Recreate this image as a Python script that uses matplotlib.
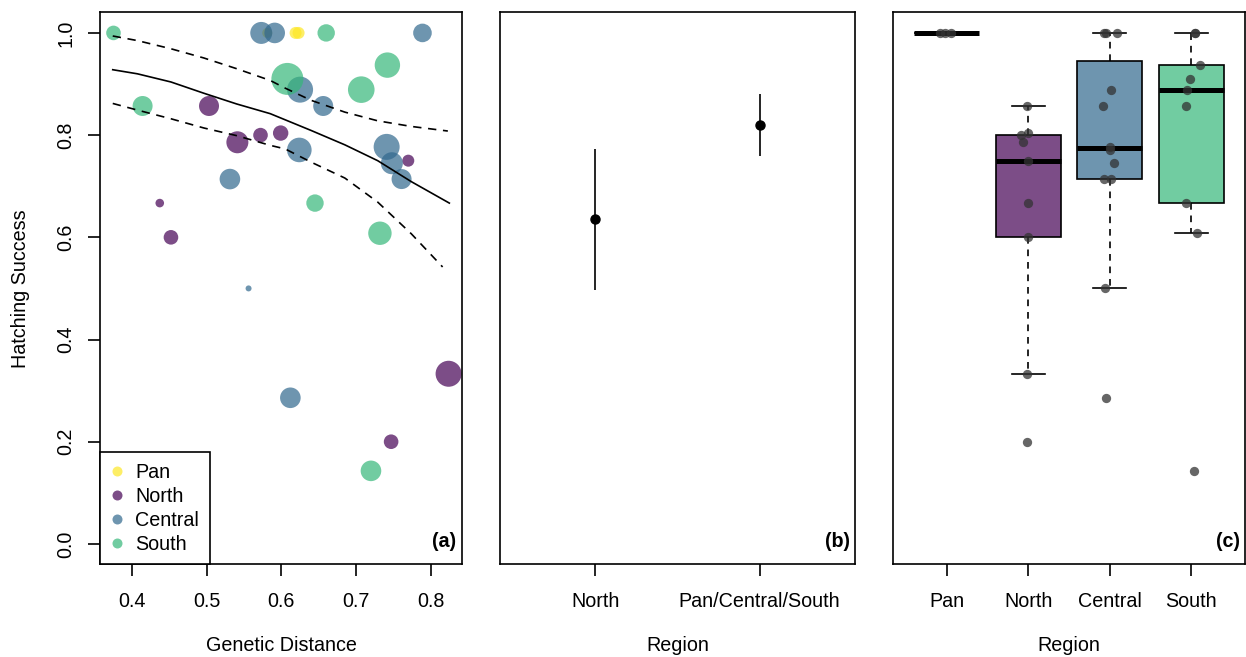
import matplotlib.pyplot as plt
import numpy as np
from matplotlib.lines import Line2D

plt.rcParams['font.family'] = ['Liberation Sans', 'DejaVu Sans']
plt.rcParams['font.size'] = 14.2

# --- data ---
regions = ['Pan', 'North', 'Central', 'South']
region_colors = ['#FDE725', '#440154', '#31688E', '#35B779']

pan_dist = [0.581, 0.619, 0.623]
pan_hs = [1.0, 1.0, 1.0]
pan_size = [5, 6, 6]
pan_jit = [-0.085, -0.024, 0.05]

north_dist = [0.503, 0.599, 0.572, 0.541, 0.770, 0.437, 0.452, 0.824, 0.747]
north_hs = [0.857, 0.804, 0.800, 0.786, 0.750, 0.667, 0.600, 0.333, 0.200]
north_size = [10, 7.7, 7.3, 11, 6, 4.3, 7.3, 13, 7.3]
north_jit = [-0.02, 0.0, -0.09, -0.06, 0.0, 0.0, 0.0, -0.01, -0.01]

central_dist = [0.573, 0.591, 0.789, 0.625, 0.656, 0.624, 0.741, 0.748, 0.761, 0.531, 0.556, 0.612]
central_hs = [1.0, 1.0, 1.0, 0.889, 0.857, 0.771, 0.777, 0.745, 0.714, 0.714, 0.500, 0.286]
central_size = [11, 10.3, 9.3, 13, 10, 12.3, 13, 11, 10, 10.3, 3, 10.3]
central_jit = [-0.07, 0.09, -0.05, 0.01, -0.08, 0.0, 0.0, 0.05, -0.07, 0.01, -0.06, -0.05]

south_dist = [0.375, 0.660, 0.742, 0.608, 0.707, 0.414, 0.645, 0.732, 0.720]
south_hs = [1.0, 1.0, 0.937, 0.910, 0.889, 0.857, 0.667, 0.608, 0.143]
south_size = [7.3, 8.7, 12.7, 16, 13.3, 10, 8.7, 11.7, 10.3]
south_jit = [0.05, 0.05, 0.11, -0.01, -0.05, -0.07, -0.07, 0.07, 0.03]

# fitted curve and confidence band (panel a)
fit_x = [0.374, 0.407, 0.452, 0.496, 0.540, 0.585, 0.640, 0.685, 0.729, 0.774, 0.825]
fit_y = [0.928, 0.920, 0.904, 0.882, 0.861, 0.842, 0.809, 0.781, 0.750, 0.709, 0.667]
upr_x = [0.374, 0.407, 0.452, 0.496, 0.540, 0.585, 0.605, 0.640, 0.685, 0.729, 0.774, 0.823]
upr_y = [0.994, 0.985, 0.969, 0.951, 0.930, 0.907, 0.892, 0.868, 0.845, 0.828, 0.817, 0.808]
lwr_x = [0.374, 0.407, 0.452, 0.496, 0.540, 0.585, 0.605, 0.640, 0.685, 0.729, 0.774, 0.816]
lwr_y = [0.862, 0.849, 0.832, 0.814, 0.799, 0.780, 0.773, 0.747, 0.716, 0.669, 0.607, 0.542]

# panel b: model estimates
groups_b = ['North', 'Pan/Central/South']
est_b = [0.635, 0.820]
lo_b = [0.497, 0.759]
hi_b = [0.772, 0.881]

dists = [pan_dist, north_dist, central_dist, south_dist]
hss = [pan_hs, north_hs, central_hs, south_hs]
sizes = [pan_size, north_size, central_size, south_size]
jits = [pan_jit, north_jit, central_jit, south_jit]

ALPHA = 0.7
LW = 1.2
FS = 14.2


def tukey_stats(vals, label):
    # R style boxplot stats (hinges + 1.5 IQR whiskers)
    v = np.sort(np.asarray(vals))
    n = len(v)
    half = (n + 1) // 2
    lower = v[:half]
    upper = v[n - half:]
    q1, med, q3 = np.median(lower), np.median(v), np.median(upper)
    iqr = q3 - q1
    lo = v[v >= q1 - 1.5 * iqr].min()
    hi = v[v <= q3 + 1.5 * iqr].max()
    fl = v[(v < lo) | (v > hi)]
    return dict(med=med, q1=q1, q3=q3, whislo=lo, whishi=hi, fliers=fl, label=label)


def style_axes(ax):
    for s in ax.spines.values():
        s.set_linewidth(LW)
    ax.tick_params(direction='out', length=8.6, width=LW, labelsize=FS)
    ax.tick_params(axis='x', pad=11)
    ax.tick_params(axis='y', pad=9)
    ax.set_ylim(-0.04, 1.04)


fig = plt.figure(figsize=(12.46, 6.57), dpi=100)
ax1 = fig.add_axes([0.0803, 0.141, 0.2905, 0.840])
ax2 = fig.add_axes([0.4013, 0.141, 0.2849, 0.840])
ax3 = fig.add_axes([0.7167, 0.141, 0.2825, 0.840])

# (a) scatter
for name, col, d, h, sz in zip(regions, region_colors, dists, hss, sizes):
    s = (2 * np.asarray(sz) / 1.389) ** 2
    ax1.scatter(d, h, s=s, color=col, alpha=ALPHA, edgecolors='none', zorder=2)
ax1.plot(fit_x, fit_y, color='black', lw=LW, zorder=3)
ax1.plot(upr_x, upr_y, color='black', lw=LW, dashes=(5, 4), zorder=3)
ax1.plot(lwr_x, lwr_y, color='black', lw=LW, dashes=(5, 4), zorder=3)
ax1.set_xlim(0.357, 0.842)
ax1.set_xticks([0.4, 0.5, 0.6, 0.7, 0.8])
ax1.set_yticks([0.0, 0.2, 0.4, 0.6, 0.8, 1.0])
ax1.set_yticklabels(['0.0', '0.2', '0.4', '0.6', '0.8', '1.0'], rotation=90, va='center')
ax1.set_xlabel('Genetic Distance', labelpad=18)
ax1.set_ylabel('Hatching Success', labelpad=19)
handles = [Line2D([], [], ls='none', marker='o', ms=7.2, color=c, alpha=ALPHA, mec='none')
           for c in region_colors]
leg = ax1.legend(handles, regions, loc='lower left', bbox_to_anchor=(0, 0), borderaxespad=0,
                 fancybox=False, edgecolor='black', framealpha=1, handlelength=0.63,
                 handletextpad=0.6, labelspacing=0.25, borderpad=0.55, fontsize=FS)
leg.get_frame().set_linewidth(LW)
ax1.text(0.985, 0.025, '(a)', transform=ax1.transAxes, ha='right', va='bottom',
         fontweight='bold', fontsize=FS)
style_axes(ax1)

# (b) estimates with intervals
xb = np.arange(1, len(groups_b) + 1)
ax2.vlines(xb, lo_b, hi_b, color='black', lw=LW)
ax2.plot(xb, est_b, 'o', color='black', ms=6.5)
ax2.set_xlim(0.42, 2.58)
ax2.set_xticks(xb)
ax2.set_xticklabels(groups_b)
ax2.set_yticks([])
ax2.set_xlabel('Region', labelpad=18)
ax2.text(0.985, 0.025, '(b)', transform=ax2.transAxes, ha='right', va='bottom',
         fontweight='bold', fontsize=FS)
style_axes(ax2)

# (c) boxplots
stats = [tukey_stats(h, r) for h, r in zip(hss, regions)]
pos = np.arange(1, len(regions) + 1)
bp = ax3.bxp(stats, positions=pos, widths=0.8, patch_artist=True, showfliers=False,
             boxprops=dict(lw=LW, edgecolor='black'),
             medianprops=dict(color='black', lw=3.6, solid_capstyle='butt'),
             whiskerprops=dict(color='black', lw=LW, dashes=(4, 3.5)),
             capprops=dict(color='black', lw=LW), capwidths=0.4)
for patch, col in zip(bp['boxes'], region_colors):
    r, g, b = plt.matplotlib.colors.to_rgb(col)
    patch.set_facecolor((r, g, b, ALPHA))
for p, h, j in zip(pos, hss, jits):
    ax3.plot(p + np.asarray(j), h, 'o', color='#333333', alpha=0.75, ms=6.7, mec='none', zorder=5)
ax3.set_xlim(0.34, 4.66)
ax3.set_xticks(pos)
ax3.set_xticklabels(regions)
ax3.set_yticks([])
ax3.set_xlabel('Region', labelpad=18)
ax3.text(0.985, 0.025, '(c)', transform=ax3.transAxes, ha='right', va='bottom',
         fontweight='bold', fontsize=FS)
style_axes(ax3)

fig.savefig('out.png', dpi=100)
